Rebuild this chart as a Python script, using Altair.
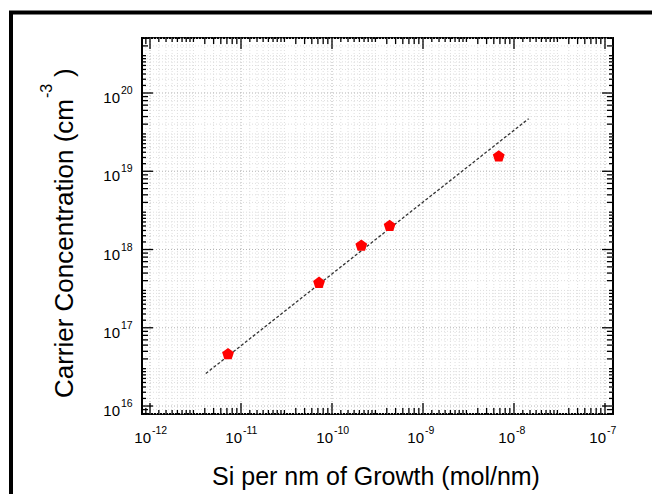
import altair as alt
import pandas as pd
import numpy as np

# ---- data ----
si_per_nm = [7.2e-12, 7.2e-11, 2.1e-10, 4.3e-10, 6.8e-9]
carrier = [4.6e16, 3.75e17, 1.12e18, 2.0e18, 1.55e19]
fit_x = [4.1e-12, 1.45e-8]
fit_y = [2.6e16, 4.7e19]
x_decades = [-12, -11, -10, -9, -8, -7]
y_decades = [16, 17, 18, 19, 20]
small_k = [1.25, 1.5, 1.75, 2, 2.25, 2.5, 2.75, 3]
medium_k = [4, 5, 6, 7, 8, 9]

FONT = "Liberation Sans, Arial, Helvetica, sans-serif"
W, H = 471, 376
xdom = [8.166e-13, 1.2246e-7]
ydom = [7.907e15, 5.047e20]
xs = alt.Scale(type="log", domain=xdom, nice=False)
ys = alt.Scale(type="log", domain=ydom, nice=False)


def tick_values(dom, decades_range, ks):
    vals = []
    for d in decades_range:
        for k in ks:
            v = k * 10.0 ** d
            if dom[0] * 1.001 < v < dom[1] * 0.999:
                vals.append(v)
    return pd.DataFrame({"v": vals})


xr = range(-13, -6)
yr = range(15, 21)
x_small = tick_values(xdom, xr, small_k)
x_med = tick_values(xdom, xr, medium_k)
x_major = pd.DataFrame({"v": [10.0 ** d for d in x_decades]})
y_small = tick_values(ydom, yr, small_k)
y_med = tick_values(ydom, yr, medium_k)
y_major = pd.DataFrame({"v": [10.0 ** d for d in y_decades]})
x_major_in = x_major[(x_major.v > xdom[0]) & (x_major.v < xdom[1])]

X = lambda: alt.X("v:Q", scale=xs, axis=None)
Y = lambda: alt.Y("v:Q", scale=ys, axis=None)

layers = []
one = pd.DataFrame({"a": [0]})

# outer frame of the figure
layers.append(
    alt.Chart(one).mark_rect(fillOpacity=0, stroke="black", strokeWidth=4).encode(
        x=alt.value(-131), x2=alt.value(560), y=alt.value(-25.5), y2=alt.value(520)
    )
)

# grid
MINOR, MAJOR = "#dedede", "#b4b4b4"
for df, col in [(x_small, MINOR), (x_med, MINOR), (x_major_in, MAJOR)]:
    layers.append(alt.Chart(df).mark_rule(strokeDash=[1, 2], color=col, strokeWidth=1).encode(x=X()))
for df, col in [(y_small, MINOR), (y_med, MINOR), (y_major, MAJOR)]:
    layers.append(alt.Chart(df).mark_rule(strokeDash=[1, 2], color=col, strokeWidth=1).encode(y=Y()))

# ticks (inward, mirrored)
for df, ln in [(x_small, 4), (x_med, 6), (x_major_in, 11)]:
    layers.append(alt.Chart(df).mark_rule(color="black", strokeWidth=1.3).encode(
        x=X(), y=alt.value(0), y2=alt.value(ln)))
    layers.append(alt.Chart(df).mark_rule(color="black", strokeWidth=1.3).encode(
        x=X(), y=alt.value(H), y2=alt.value(H - ln)))
for df, ln in [(y_small, 4), (y_med, 6), (y_major, 11)]:
    layers.append(alt.Chart(df).mark_rule(color="black", strokeWidth=1.3).encode(
        y=Y(), x=alt.value(0), x2=alt.value(ln)))
    layers.append(alt.Chart(df).mark_rule(color="black", strokeWidth=1.3).encode(
        y=Y(), x=alt.value(W), x2=alt.value(W - ln)))

# fit line
fit = pd.DataFrame({"x": fit_x, "y": fit_y})
layers.append(alt.Chart(fit).mark_line(color="#333333", strokeWidth=1.3, strokeDash=[3, 2]).encode(
    x=alt.X("x:Q", scale=xs, axis=None), y=alt.Y("y:Q", scale=ys, axis=None)))

# data points
pts = pd.DataFrame({"x": si_per_nm, "y": carrier})
pentagon = "M0,-1L0.951,-0.309L0.588,0.809L-0.588,0.809L-0.951,-0.309Z"
layers.append(alt.Chart(pts).mark_point(shape=pentagon, filled=True, fill="#ff0000", fillOpacity=1,
                                        strokeWidth=0, size=155).encode(
    x=alt.X("x:Q", scale=xs, axis=None), y=alt.Y("y:Q", scale=ys, axis=None)))

# tick labels
xlab = pd.DataFrame({"v": [10.0 ** d for d in x_decades], "base": ["10"] * len(x_decades),
                     "exp": [str(d) for d in x_decades]})
ylab = pd.DataFrame({"v": [10.0 ** d for d in y_decades], "base": ["10"] * len(y_decades),
                     "exp": [str(d) for d in y_decades]})
layers.append(alt.Chart(xlab).mark_text(align="right", baseline="alphabetic", fontSize=15, font=FONT,
                                        dx=1, color="black").encode(
    x=X(), y=alt.value(H + 29), text="base:N"))
layers.append(alt.Chart(xlab).mark_text(align="left", baseline="alphabetic", fontSize=10.5, font=FONT,
                                        dx=2, color="black").encode(
    x=X(), y=alt.value(H + 20), text="exp:N"))
layers.append(alt.Chart(ylab).mark_text(align="right", baseline="alphabetic", fontSize=15, font=FONT,
                                        dy=10, color="black").encode(
    y=Y(), x=alt.value(-22), text="base:N"))
layers.append(alt.Chart(ylab).mark_text(align="left", baseline="alphabetic", fontSize=10.5, font=FONT,
                                        dy=1, color="black").encode(
    y=Y(), x=alt.value(-21), text="exp:N"))

# axis titles
layers.append(alt.Chart(one).mark_text(align="center", baseline="alphabetic", fontSize=25, font=FONT,
                                       color="black").encode(
    x=alt.value(234), y=alt.value(447), text=alt.value("Si per nm of Growth (mol/nm)")))
layers.append(alt.Chart(one).mark_text(angle=270, align="right", baseline="alphabetic", fontSize=26,
                                       font=FONT, color="black").encode(
    x=alt.value(-69), y=alt.value(61), text=alt.value("Carrier Concentration (cm")))
layers.append(alt.Chart(one).mark_text(angle=270, align="left", baseline="alphabetic", fontSize=16,
                                       font=FONT, color="black").encode(
    x=alt.value(-90), y=alt.value(60), text=alt.value("-3")))
layers.append(alt.Chart(one).mark_text(angle=270, align="left", baseline="alphabetic", fontSize=26,
                                       font=FONT, color="black").encode(
    x=alt.value(-69), y=alt.value(39), text=alt.value(")")))

chart = alt.layer(*layers).properties(
    width=W, height=H,
    autosize=alt.AutoSizeParams(type="none"),
    padding={"left": 134, "top": 30, "right": 39, "bottom": 80},
    background="white",
).configure_view(stroke="black", strokeWidth=2)

chart.save("out.html", embed_options={"renderer": "svg", "actions": False})
